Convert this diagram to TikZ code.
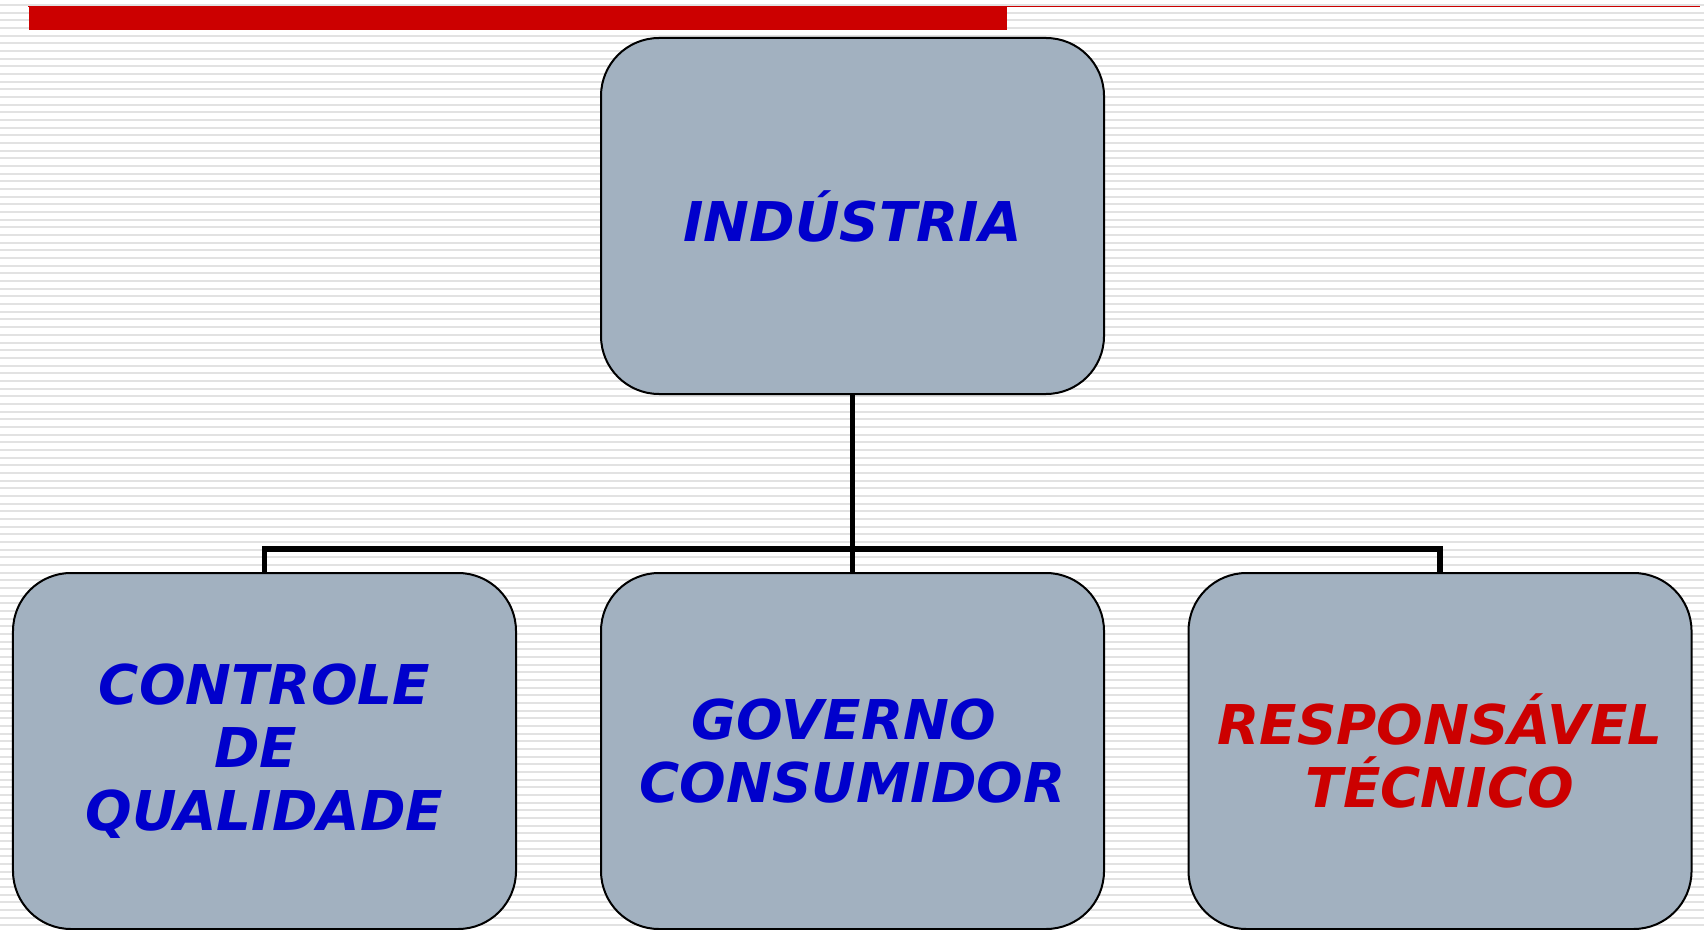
\documentclass[tikz,border=0pt]{standalone}
\usepackage{fontspec}
\setmainfont{DejaVu Sans}
\usepackage{tikz}
\usetikzlibrary{positioning}
\usepackage{xcolor}
\definecolor{boxfill}{RGB}{162,177,192}
\definecolor{txtblue}{RGB}{0,0,204}
\definecolor{txtred}{RGB}{204,0,0}
\definecolor{stripegray}{RGB}{226,226,226}

\begin{document}
\begin{tikzpicture}
                        % background: white page with thin grey stripes, red title bar
                        \useasboundingbox (0,0) rectangle (17.04,9.29);
                        \fill[white] (0,0) rectangle (17.04,9.29);
                        \tikzstyle{stripe}=[stripegray, line width=0.02cm]
                        \foreach \i in {0,...,120}{
                                \pgfmathsetmacro\yy{9.24-0.0767*\i}
                                \draw[stripe] (0,\yy) -- (17.04,\yy);
                        }
                        \fill[txtred] (0.29,8.99) rectangle (10.07,9.23);
                        \draw[txtred, line width=0.015cm] (0.28,9.225) -- (17.00,9.225);

                        \tikzstyle{box}=[rectangle, rounded corners=0.58cm, draw=black, line width=0.02cm,
                                fill=boxfill, minimum width=5.03cm, minimum height=3.56cm,
                                align=center, font=\fontsize{15.6}{17.9}\selectfont\bfseries\itshape,
                                text=txtblue, node distance=5.35cm]
                        \tikzstyle{conn}=[black, line width=0.055cm]

                        \node[box] (ind) at (8.525, 7.13) {IND\'USTRIA};
                        \node[box] (gc) [below of = ind] {GOVERNO\kern0.32em\\CONSUMIDOR};
                        \node[box, node distance=5.88cm] (cq) [left of = gc] {CONTROLE\\DE\kern0.32em\\QUALIDADE};
                        \node[box, node distance=5.875cm, text=txtred] (rt) [right of = gc] {RESPONS\'AVEL\\T\'ECNICO};

                        \coordinate (bus) at (8.525, 3.80);
                        \draw[conn] (ind.south) -- (bus);
                        \draw[conn] (cq.north) |- (bus) -| (rt.north);
                        \draw[conn] (bus) -- (gc.north);
                \end{tikzpicture}
\end{document}
